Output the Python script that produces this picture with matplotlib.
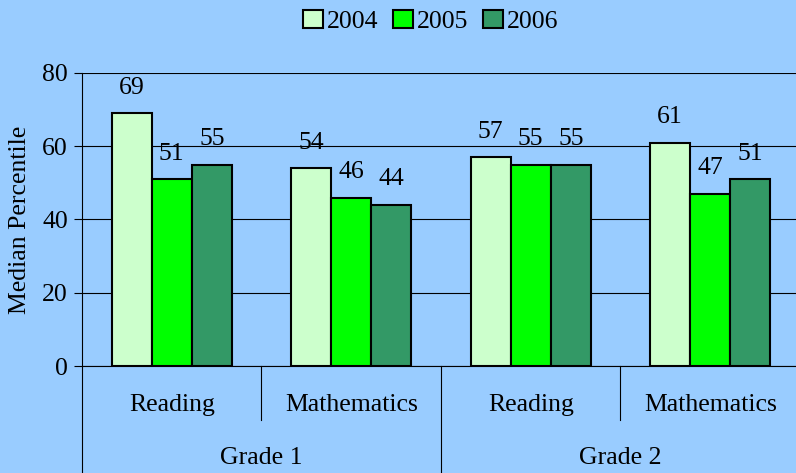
import matplotlib
matplotlib.use('Agg')
import matplotlib.pyplot as plt
import matplotlib.transforms as mtransforms
import numpy as np

subjects = ['Reading', 'Mathematics', 'Reading', 'Mathematics']
grades = ['Grade 1', 'Grade 2']
years = ['2004', '2005', '2006']
vals_2004 = [69, 54, 57, 61]
vals_2005 = [51, 46, 55, 47]
vals_2006 = [55, 44, 55, 51]
colors = ['#CCFFCC', '#00FF00', '#339966']

plt.rcParams['font.family'] = ['Liberation Serif', 'DejaVu Serif']
plt.rcParams['font.size'] = 18.5

bg = '#99CCFF'
fig = plt.figure(figsize=(7.96, 4.73), dpi=100, facecolor=bg)
ax = fig.add_axes([0.103, 0.2262, 0.902, 0.6195], facecolor=bg)

x = np.arange(len(subjects))
w = 0.223
series = [vals_2004, vals_2005, vals_2006]
for i, (vals, c, yr) in enumerate(zip(series, colors, years)):
    bars = ax.bar(x + (i - 1) * w, vals, w, color=c, edgecolor='black',
                  linewidth=1.5, label=yr, zorder=3)
    for b, v in zip(bars, vals):
        ax.annotate(str(v), (b.get_x() + b.get_width() / 2, v),
                    xytext=(0, 10.5), textcoords='offset points',
                    ha='center', va='bottom')

ax.set_xlim(-0.5, 3.5)
ax.set_ylim(0, 80)
ax.set_yticks([0, 20, 40, 60, 80])
ax.yaxis.grid(True, color='black', linewidth=0.8, zorder=0)
ax.tick_params(axis='y', direction='out', length=6, width=0.8, pad=4)
ax.set_xticks([])
for s in ['top', 'right']:
    ax.spines[s].set_visible(False)
ax.spines['left'].set_linewidth(0.8)
ax.spines['bottom'].set_linewidth(0.8)
ax.set_ylabel('Median Percentile', labelpad=8)

trans = mtransforms.blended_transform_factory(ax.transData, ax.transAxes)
# separators under the axis
for xb in [0.5, 2.5]:
    ax.plot([xb, xb], [0, -0.184], transform=trans, color='black', lw=0.8, clip_on=False)
for xb in [-0.5, 1.5, 3.5]:
    ax.plot([xb, xb], [0, -0.6], transform=trans, color='black', lw=0.8, clip_on=False)
for xi, s in zip(x, subjects):
    ax.text(xi, -0.133, s, transform=trans, ha='center', va='center')
for gi, g in enumerate(grades):
    ax.text(gi * 2 + 0.5, -0.314, g, transform=trans, ha='center', va='center')

fig.legend(loc='center', bbox_to_anchor=(0.541, 0.955), ncol=3, frameon=False,
           handlelength=0.75, handleheight=0.75, handletextpad=0.15,
           columnspacing=0.6, borderaxespad=0)

fig.savefig('out.png', dpi=100, facecolor=bg)
